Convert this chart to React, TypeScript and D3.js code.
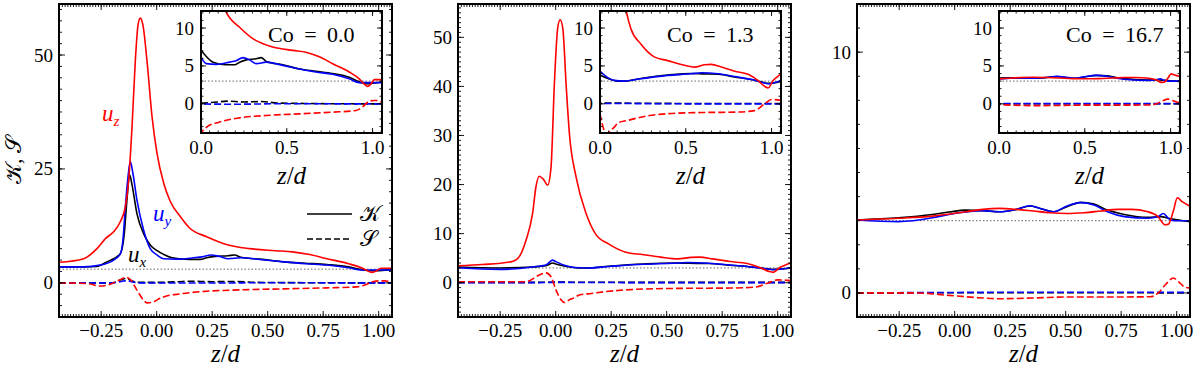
import React from 'react';
import * as d3 from 'd3';

type Pt = [number, number];

// Co = 0.0  (K = kurtosis, S = skewness; x black, y blue, z red)
const co0Kx: Pt[] = [[-0.44, 3.5], [-0.33, 3.5], [-0.27, 3.6], [-0.224, 4.6], [-0.164, 6.4], [-0.146, 10.8], [-0.134, 18.2], [-0.122, 23.7], [-0.111, 21.5], [-0.089, 15.2], [-0.059, 10.8], [-0.029, 8.3], [0.002, 7.05], [0.031, 6.25], [0.07, 5.5], [0.147, 5.15], [0.196, 5.15], [0.225, 5.5], [0.264, 5.8], [0.322, 5.95], [0.351, 6.1], [0.38, 5.6], [0.477, 5.15], [0.574, 4.6], [0.67, 4.3], [0.767, 4.0], [0.864, 3.5], [0.922, 2.9], [0.961, 2.64], [1.06, 2.9]];
const co0Ky: Pt[] = [[-0.44, 3.5], [-0.33, 3.5], [-0.254, 3.9], [-0.194, 5.0], [-0.164, 6.3], [-0.152, 9.4], [-0.141, 16.7], [-0.129, 23.3], [-0.119, 26.6], [-0.107, 24.0], [-0.089, 18.2], [-0.059, 11.6], [-0.029, 7.5], [0.002, 6.1], [0.031, 5.3], [0.089, 5.2], [0.167, 5.5], [0.205, 5.7], [0.244, 6.1], [0.283, 5.8], [0.322, 5.3], [0.38, 5.5], [0.477, 5.07], [0.574, 4.6], [0.67, 4.2], [0.767, 3.9], [0.864, 3.3], [0.922, 2.8], [1.06, 2.8]];
const co0Kz: Pt[] = [[-0.44, 4.5], [-0.329, 5.3], [-0.269, 7.5], [-0.231, 9.7], [-0.194, 11.2], [-0.164, 13.4], [-0.141, 16.7], [-0.126, 22.6], [-0.111, 34.3], [-0.096, 48.9], [-0.084, 56.6], [-0.074, 58.1], [-0.062, 56.6], [-0.044, 48.9], [-0.021, 36.5], [0.0015, 28.4], [0.032, 21.8], [0.062, 17.8], [0.107, 14.5], [0.147, 12.1], [0.225, 10.1], [0.302, 8.6], [0.419, 7.5], [0.535, 7.05], [0.612, 6.8], [0.69, 6.2], [0.767, 5.3], [0.864, 4.2], [0.922, 3.3], [0.952, 2.6], [0.971, 2.3], [0.99, 2.6], [1.01, 3.2], [1.06, 3.2]];
const co0Sx: Pt[] = [[-0.44, 0], [-0.2, 0], [-0.164, 0.6], [-0.137, 0.95], [-0.11, 0.4], [-0.08, 0.1], [0.0, 0.1], [0.1, 0.25], [0.15, 0.35], [0.25, 0.25], [0.35, 0.3], [0.45, 0.1], [0.6, 0.05], [0.9, 0], [1.06, 0]];
const co0Sy: Pt[] = [[-0.44, 0], [-0.2, 0], [-0.16, 0.3], [-0.135, 0.5], [-0.11, 0.2], [-0.08, 0], [0.2, -0.05], [0.5, 0.02], [0.8, 0], [1.06, 0]];
const co0Sz: Pt[] = [[-0.44, 0], [-0.314, -0.15], [-0.254, -0.7], [-0.209, -0.3], [-0.164, 0.7], [-0.137, 1.2], [-0.116, 0.6], [-0.089, -1.6], [-0.059, -3.8], [-0.044, -4.4], [-0.014, -4.2], [0.0, -3.8], [0.031, -3.1], [0.109, -2.4], [0.225, -1.85], [0.38, -1.54], [0.574, -1.32], [0.767, -1.1], [0.903, -0.88], [0.94, -0.44], [0.977, 0.3], [1.006, 0.44], [1.025, 0.44], [1.06, 0.13]];

// Co = 1.3
const co13Kx: Pt[] = [[-0.44, 3.2], [-0.25, 3.0], [-0.104, 3.2], [-0.04, 3.5], [-0.014, 4.0], [0.0, 3.8], [0.05, 3.3], [0.1, 3.0], [0.14, 3.0], [0.238, 3.35], [0.395, 3.8], [0.53, 4.0], [0.6, 3.95], [0.69, 3.9], [0.785, 3.55], [0.883, 3.2], [0.94, 2.9], [0.98, 2.7], [1.06, 3.0]];
const co13Ky: Pt[] = [[-0.44, 3.04], [-0.255, 2.7], [-0.104, 3.2], [-0.044, 3.6], [-0.014, 4.6], [0.0, 4.3], [0.043, 3.5], [0.082, 3.1], [0.14, 3.0], [0.238, 3.3], [0.395, 3.75], [0.53, 3.96], [0.59, 4.1], [0.69, 3.96], [0.785, 3.6], [0.883, 3.2], [0.94, 2.86], [0.98, 2.64], [1.06, 3.1]];
const co13Kz: Pt[] = [[-0.44, 3.45], [-0.33, 3.7], [-0.195, 4.3], [-0.164, 5.3], [-0.134, 8.6], [-0.104, 14.1], [-0.089, 19.5], [-0.074, 21.7], [-0.056, 21.1], [-0.036, 19.9], [-0.021, 23.5], [-0.006, 40.4], [0.009, 51.9], [0.02, 53.6], [0.032, 51.9], [0.047, 40.4], [0.062, 30.3], [0.092, 21.5], [0.137, 14.1], [0.18, 9.9], [0.238, 7.9], [0.316, 6.2], [0.395, 5.7], [0.473, 5.2], [0.55, 4.85], [0.61, 5.15], [0.648, 5.2], [0.707, 4.85], [0.785, 4.3], [0.863, 3.9], [0.92, 3.1], [0.96, 2.3], [0.98, 2.1], [1.01, 3.1], [1.04, 3.7], [1.06, 4.0]];
const co13Sx: Pt[] = [[-0.44, 0.05], [-0.1, 0.05], [0.0, 0.1], [0.5, 0.05], [1.06, 0.05]];
const co13Sy: Pt[] = [[-0.44, 0], [-0.1, 0], [0.0, 0.05], [0.5, 0], [1.06, 0]];
const co13Sz: Pt[] = [[-0.44, 0.2], [-0.134, 0.2], [-0.074, 1.55], [-0.044, 2.0], [-0.021, 1.2], [0.0015, -1.5], [0.024, -3.5], [0.039, -4.05], [0.062, -3.5], [0.082, -3.1], [0.107, -2.5], [0.16, -2.2], [0.238, -1.76], [0.395, -1.3], [0.59, -1.15], [0.785, -1.1], [0.9, -0.9], [0.96, 0], [1.0, 0.57], [1.06, 0.44]];

// Co = 16.7
const co167Kx: Pt[] = [[-0.44, 3.03], [-0.254, 3.12], [-0.1, 3.26], [-0.026, 3.36], [0.05, 3.44], [0.126, 3.42], [0.202, 3.37], [0.278, 3.47], [0.339, 3.61], [0.385, 3.51], [0.445, 3.37], [0.506, 3.58], [0.567, 3.76], [0.628, 3.69], [0.688, 3.44], [0.764, 3.26], [0.871, 3.14], [0.93, 3.17], [0.962, 3.1], [1.06, 2.96]];
const co167Ky: Pt[] = [[-0.44, 3.03], [-0.254, 2.96], [-0.1, 3.12], [-0.026, 3.26], [0.05, 3.36], [0.126, 3.42], [0.202, 3.37], [0.278, 3.47], [0.339, 3.62], [0.385, 3.51], [0.445, 3.37], [0.506, 3.61], [0.567, 3.75], [0.628, 3.65], [0.688, 3.37], [0.764, 3.17], [0.871, 3.1], [0.916, 3.17], [0.94, 3.3], [0.962, 3.1], [0.99, 3.0], [1.06, 3.0]];
const co167Kz: Pt[] = [[-0.44, 3.03], [-0.254, 3.1], [-0.1, 3.19], [0.05, 3.37], [0.126, 3.47], [0.202, 3.51], [0.278, 3.47], [0.354, 3.4], [0.43, 3.33], [0.506, 3.3], [0.582, 3.33], [0.658, 3.4], [0.734, 3.47], [0.795, 3.47], [0.871, 3.37], [0.916, 3.17], [0.947, 2.83], [0.962, 2.85], [0.985, 3.4], [1.003, 3.95], [1.023, 3.8], [1.06, 3.6]];
const co167Sx: Pt[] = [[-0.44, 0], [0.5, 0.01], [1.06, 0]];
const co167Sy: Pt[] = [[-0.44, 0], [0.0, 0.02], [0.5, 0.03], [1.06, 0.02]];
const co167Sz: Pt[] = [[-0.44, 0], [-0.18, 0], [-0.026, -0.1], [0.126, -0.21], [0.2, -0.24], [0.354, -0.21], [0.506, -0.17], [0.658, -0.17], [0.88, -0.16], [0.917, 0], [0.95, 0.35], [0.985, 0.62], [1.01, 0.45], [1.035, 0.25], [1.06, 0.2]];

const coLabels = ['0.0', '1.3', '16.7'];
const panelSeries = [
  { Kx: co0Kx, Ky: co0Ky, Kz: co0Kz, Sx: co0Sx, Sy: co0Sy, Sz: co0Sz },
  { Kx: co13Kx, Ky: co13Ky, Kz: co13Kz, Sx: co13Sx, Sy: co13Sy, Sz: co13Sz },
  { Kx: co167Kx, Ky: co167Ky, Kz: co167Kz, Sx: co167Sx, Sy: co167Sy, Sz: co167Sz },
];
const yDomains: [number, number][] = [[-7.5, 61.2], [-7.0, 56.8], [-1, 12]];
const yMajorTicks = [[0, 25, 50], [0, 10, 20, 30, 40, 50], [0, 10]];
const yMinorSteps = [2.5, 1, 1];
const xMajorTicks = [-0.25, 0, 0.25, 0.5, 0.75, 1.0];
const insetXTicks = [0, 0.5, 1.0];
const insetYTicks = [0, 5, 10];
const gaussK = 3;

const FONT = 'Liberation Serif, serif';
const panelLeft = [59, 458, 857];
const plotW = 333, plotTop = 4, plotBottom = 317;
const insetDx = 142, insetW = 181, insetTop = 11, insetBottom = 133;

const fmtMinus = (s: string) => s.replace('-', '\u2212');

function steps(lo: number, hi: number, step: number) {
  const out: number[] = [];
  for (let k = Math.ceil(lo / step - 1e-9); k * step <= hi + 1e-9; k++) out.push(k * step);
  return out;
}

function Ticks({ x, y, xMajor, xMinor, yMajor, yMinor, big = 6, small = 3 }: any) {
  const [x0, x1] = x.range();
  const [y0, y1] = y.range(); // y0 bottom, y1 top
  const xd = x.domain(), yd = y.domain();
  const lines: any[] = [];
  const addX = (v: number, len: number, k: string) => {
    const px = x(v);
    lines.push(<line key={'xb' + k} x1={px} x2={px} y1={y0} y2={y0 - len} />);
    lines.push(<line key={'xt' + k} x1={px} x2={px} y1={y1} y2={y1 + len} />);
  };
  const addY = (v: number, len: number, k: string) => {
    const py = y(v);
    lines.push(<line key={'yl' + k} x1={x0} x2={x0 + len} y1={py} y2={py} />);
    lines.push(<line key={'yr' + k} x1={x1} x2={x1 - len} y1={py} y2={py} />);
  };
  steps(xd[0], xd[1], xMinor).forEach((v, i) => addX(v, small, 'm' + i));
  xMajor.forEach((v: number, i: number) => addX(v, big, 'M' + i));
  steps(yd[0], yd[1], yMinor).forEach((v, i) => addY(v, small, 'm' + i));
  yMajor.forEach((v: number, i: number) => addY(v, big, 'M' + i));
  return <g stroke="#000" strokeWidth={0.9}>{lines}</g>;
}

function Curves({ s, x, y, clip }: any) {
  const line = d3.line<Pt>().x(d => x(d[0])).y(d => y(d[1])).curve(d3.curveMonotoneX);
  const spec = [
    { d: s.Sx, c: '#000', dash: '7,3' },
    { d: s.Sy, c: '#0000ff', dash: '7,3' },
    { d: s.Sz, c: '#ff0000', dash: '7,3' },
    { d: s.Kx, c: '#000', dash: null },
    { d: s.Ky, c: '#0000ff', dash: null },
    { d: s.Kz, c: '#ff0000', dash: null },
  ];
  const [xa, xb] = x.range();
  return (
    <g clipPath={`url(#${clip})`}>
      <line x1={xa} x2={xb} y1={y(gaussK)} y2={y(gaussK)} stroke="#666" strokeWidth={1} strokeDasharray="1.5,2" />
      {spec.map((p, i) => (
        <path key={i} d={line(p.d) || ''} fill="none" stroke={p.c} strokeWidth={1.6}
          strokeDasharray={p.dash || undefined} strokeLinejoin="round" />
      ))}
    </g>
  );
}

function ZD({ x, y }: { x: number; y: number }) {
  return (
    <text x={x} y={y} textAnchor="middle" fontSize={25}>
      <tspan fontStyle="italic">z</tspan>
      <tspan>/</tspan>
      <tspan fontStyle="italic">d</tspan>
    </text>
  );
}

function Panel({ i }: { i: number }) {
  const left = panelLeft[i];
  const x = d3.scaleLinear().domain([-0.44, 1.06]).range([left, left + plotW]);
  const y = d3.scaleLinear().domain(yDomains[i]).range([plotBottom, plotTop]);
  const il = left + insetDx;
  const ix = d3.scaleLinear().domain([0, 1.055]).range([il, il + insetW]);
  const iy = d3.scaleLinear().domain([-3.85, 12.25]).range([insetBottom, insetTop]);
  const s = panelSeries[i];
  const cx = left + plotW / 2;
  return (
    <g>
      <defs>
        <clipPath id={`main${i}`}><rect x={left} y={plotTop} width={plotW} height={plotBottom - plotTop} /></clipPath>
        <clipPath id={`ins${i}`}><rect x={il} y={insetTop} width={insetW} height={insetBottom - insetTop} /></clipPath>
      </defs>
      <Curves s={s} x={x} y={y} clip={`main${i}`} />
      <Ticks x={x} y={y} xMajor={xMajorTicks} xMinor={0.0125} yMajor={yMajorTicks[i]} yMinor={yMinorSteps[i]} />
      <rect x={left} y={plotTop} width={plotW} height={plotBottom - plotTop} fill="none" stroke="#000" strokeWidth={2} />
      {xMajorTicks.map(v => (
        <text key={v} x={x(v)} y={337} textAnchor="middle" fontSize={19}>{fmtMinus(d3.format('.2f')(v))}</text>
      ))}
      {yMajorTicks[i].map(v => (
        <text key={v} x={left - 6} y={y(v) + 6.5} textAnchor="end" fontSize={19}>{v}</text>
      ))}
      <ZD x={cx} y={362} />

      {/* inset */}
      <rect x={il} y={insetTop} width={insetW} height={insetBottom - insetTop} fill="#fff" />
      <Curves s={s} x={ix} y={iy} clip={`ins${i}`} />
      <Ticks x={ix} y={iy} xMajor={insetXTicks} xMinor={0.05} yMajor={insetYTicks} yMinor={1} big={5} small={2.5} />
      <rect x={il} y={insetTop} width={insetW} height={insetBottom - insetTop} fill="none" stroke="#000" strokeWidth={2} />
      {insetXTicks.map(v => (
        <text key={v} x={ix(v)} y={154} textAnchor="middle" fontSize={19}>{d3.format('.1f')(v)}</text>
      ))}
      {insetYTicks.map(v => (
        <text key={v} x={il - 7} y={iy(v) + 6.5} textAnchor="end" fontSize={19}>{v}</text>
      ))}
      <ZD x={il + insetW / 2} y={184} />
      <text x={il + 67} y={42} fontSize={22} style={{ wordSpacing: '5px' }}>{`Co = ${coLabels[i]}`}</text>
    </g>
  );
}

export default function App() {
  return (
    <svg width={1200} height={374} fontFamily={FONT}
      style={{ display: 'block', position: 'absolute', left: 0, top: 0, background: '#fff' }}>
      {[0, 1, 2].map(i => <Panel key={i} i={i} />)}
      <text transform="translate(21,160) rotate(-90)" textAnchor="middle" fontSize={22}>{'\u{1D4A6}, \u{1D4AE}'}</text>
      {/* annotations, panel 1 */}
      <g fontStyle="italic" fontSize={23}>
        <text x={102} y={121} fill="#ff0000">u<tspan fontSize={15} dy={5}>z</tspan></text>
        <text x={153} y={221} fill="#0000ff">u<tspan fontSize={15} dy={5}>y</tspan></text>
        <text x={128} y={262} fill="#000">u<tspan fontSize={15} dy={5}>x</tspan></text>
      </g>
      <line x1={307} x2={352} y1={214} y2={214} stroke="#000" strokeWidth={1.6} />
      <line x1={307} x2={352} y1={239} y2={239} stroke="#000" strokeWidth={1.6} strokeDasharray="6,3" />
      <text x={360} y={221} fontSize={22}>{'\u{1D4A6}'}</text>
      <text x={360} y={246} fontSize={22}>{'\u{1D4AE}'}</text>
    </svg>
  );
}
